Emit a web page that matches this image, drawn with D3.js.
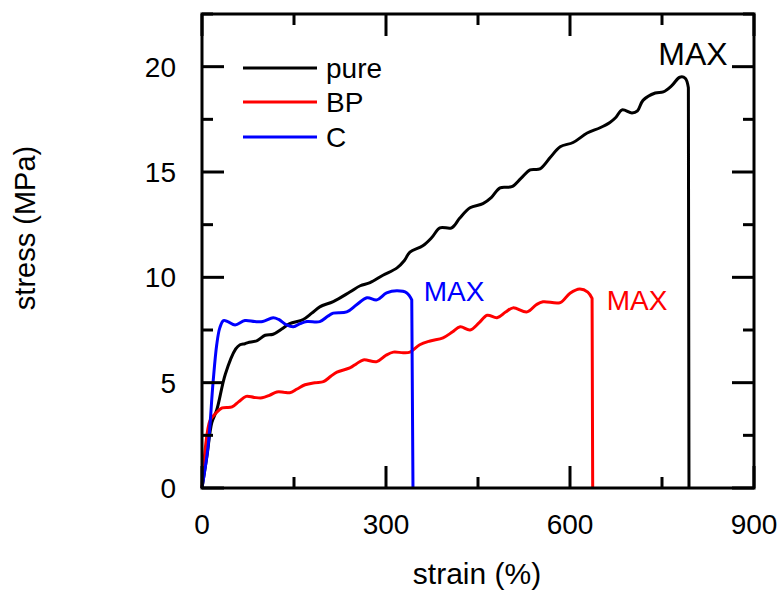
<!DOCTYPE html>
<html>
<head>
<meta charset="utf-8">
<script src="https://cdn.jsdelivr.net/npm/d3@7"></script>
<style>
  html, body { margin: 0; padding: 0; background: #fff; }
  text { font-family: "Liberation Sans", Arial, sans-serif; fill: #000; }
</style>
</head>
<body>
<svg id="chart" width="783" height="592"></svg>
<script>
// ---- data (strain %, stress MPa) ----
const pureStrain = [0, 8, 16, 24, 38, 55, 62, 70, 75, 90, 103, 116, 130, 143, 165, 179, 192, 214, 241, 258, 274, 295, 318, 330, 339, 360, 375, 388, 407, 420, 437, 458, 472, 486, 505, 520, 535, 551, 568, 584, 605, 628, 649, 665, 675, 685, 701, 710, 719, 739, 752, 766, 779, 788, 793, 794];
const pureStress = [0, 1.5, 3.1, 3.7, 5.4, 6.6, 6.8, 6.85, 6.9, 7.0, 7.25, 7.3, 7.55, 7.8, 8.0, 8.3, 8.6, 8.85, 9.3, 9.6, 9.75, 10.1, 10.45, 10.8, 11.2, 11.5, 11.9, 12.35, 12.35, 12.8, 13.3, 13.5, 13.8, 14.25, 14.3, 14.7, 15.1, 15.15, 15.7, 16.2, 16.4, 16.85, 17.1, 17.35, 17.6, 17.95, 17.8, 17.9, 18.4, 18.75, 18.8, 19.1, 19.5, 19.45, 19.0, 0];

const bpStrain = [0, 5, 13, 21, 33, 49, 60, 72, 85, 98, 110, 122, 133, 143, 155, 168, 184, 198, 210, 220, 241, 252, 263, 285, 300, 312, 328, 339, 355, 372, 393, 408, 421, 437, 452, 465, 481, 495, 507, 530, 545, 556, 584, 600, 616, 629, 636, 637];
const bpStress = [0, 1.8, 3.2, 3.5, 3.8, 3.85, 4.1, 4.35, 4.3, 4.28, 4.4, 4.56, 4.55, 4.52, 4.7, 4.9, 5.0, 5.05, 5.3, 5.5, 5.7, 5.9, 6.08, 6.0, 6.3, 6.45, 6.42, 6.45, 6.8, 6.98, 7.13, 7.4, 7.65, 7.5, 7.85, 8.2, 8.08, 8.35, 8.55, 8.36, 8.7, 8.84, 8.8, 9.25, 9.45, 9.3, 9.0, 0];

const cStrain = [0, 10, 18, 24, 29, 35, 42, 54, 70, 86, 99, 116, 125, 138, 149, 160, 171, 192, 205, 214, 236, 252, 269, 285, 301, 318, 334, 342, 344];
const cStress = [0, 2.0, 5.0, 6.8, 7.6, 7.95, 7.9, 7.74, 7.95, 7.9, 7.9, 8.08, 8.0, 7.74, 7.65, 7.8, 7.9, 7.9, 8.15, 8.3, 8.36, 8.7, 9.03, 8.93, 9.26, 9.36, 9.26, 8.93, 0];

const seriesNames = ["pure", "BP", "C"];
const seriesColors = ["#000000", "#ff0000", "#0000ff"];
const xTicks = [0, 300, 600, 900];
const xMinorTicks = [150, 450, 750];
const yTicks = [0, 5, 10, 15, 20];
const yMinorTicks = [2.5, 7.5, 12.5, 17.5, 22.5];
const maxLabel = "MAX";

// ---- layout ----
const svg = d3.select("#chart");
const L = 202, R = 754, T = 14, B = 488;
const x = d3.scaleLinear().domain([0, 900]).range([L, R]);
const y = d3.scaleLinear().domain([0, 22.5]).range([B, T]);

const series = [
  { name: seriesNames[0], color: seriesColors[0], pts: pureStrain.map((s, i) => [s, pureStress[i]]) },
  { name: seriesNames[1], color: seriesColors[1], pts: bpStrain.map((s, i) => [s, bpStress[i]]) },
  { name: seriesNames[2], color: seriesColors[2], pts: cStrain.map((s, i) => [s, cStress[i]]) }
];

const smooth = d3.line()
  .x(d => x(d[0]))
  .y(d => y(d[1]))
  .curve(d3.curveCatmullRom.alpha(0.5));

// curves: smooth rise, then a straight drop at break
series.forEach(s => {
  const body = s.pts.slice(0, -1);
  const last = s.pts[s.pts.length - 1];
  const d = smooth(body) + "L" + x(last[0]) + "," + y(last[1]);
  svg.append("path")
    .attr("d", d)
    .attr("fill", "none")
    .attr("stroke", s.color)
    .attr("stroke-width", 3)
    .attr("stroke-linejoin", "round");
});

// frame
svg.append("rect")
  .attr("x", L).attr("y", T)
  .attr("width", R - L).attr("height", B - T)
  .attr("fill", "none").attr("stroke", "#000").attr("stroke-width", 3);

// ticks (inside, mirrored)
const tk = svg.append("g").attr("stroke", "#000").attr("stroke-width", 3);
const MAJ = 22, MIN = 11;
xTicks.forEach(v => {
  tk.append("line").attr("x1", x(v)).attr("x2", x(v)).attr("y1", B).attr("y2", B - MAJ);
  tk.append("line").attr("x1", x(v)).attr("x2", x(v)).attr("y1", T).attr("y2", T + MAJ);
});
xMinorTicks.forEach(v => {
  tk.append("line").attr("x1", x(v)).attr("x2", x(v)).attr("y1", B).attr("y2", B - MIN);
  tk.append("line").attr("x1", x(v)).attr("x2", x(v)).attr("y1", T).attr("y2", T + MIN);
});
yTicks.forEach(v => {
  tk.append("line").attr("y1", y(v)).attr("y2", y(v)).attr("x1", L).attr("x2", L + MAJ);
  tk.append("line").attr("y1", y(v)).attr("y2", y(v)).attr("x1", R).attr("x2", R - MAJ);
});
yMinorTicks.forEach(v => {
  tk.append("line").attr("y1", y(v)).attr("y2", y(v)).attr("x1", L).attr("x2", L + MIN);
  tk.append("line").attr("y1", y(v)).attr("y2", y(v)).attr("x1", R).attr("x2", R - MIN);
});

// tick labels
xTicks.forEach(v => {
  svg.append("text").attr("x", x(v)).attr("y", 534)
    .attr("text-anchor", "middle").attr("font-size", 28).text(v);
});
yTicks.forEach(v => {
  svg.append("text").attr("x", 176).attr("y", y(v) + 10)
    .attr("text-anchor", "end").attr("font-size", 28).text(v);
});

// axis titles
svg.append("text").attr("x", 477).attr("y", 584)
  .attr("text-anchor", "middle").attr("font-size", 30).text("strain (%)");
svg.append("text").attr("transform", "translate(35,228) rotate(-90)")
  .attr("text-anchor", "middle").attr("font-size", 29).text("stress (MPa)");

// legend
const legY = [68, 102, 137];
series.forEach((s, i) => {
  svg.append("line").attr("x1", 243).attr("x2", 317)
    .attr("y1", legY[i]).attr("y2", legY[i])
    .attr("stroke", s.color).attr("stroke-width", 3);
  svg.append("text").attr("x", 326).attr("y", legY[i] + 10)
    .attr("font-size", 28).text(s.name);
});

// MAX labels
svg.append("text").attr("x", 693).attr("y", 65).attr("text-anchor", "middle")
  .attr("font-size", 32).style("fill", seriesColors[0]).text(maxLabel);
svg.append("text").attr("x", 454).attr("y", 301).attr("text-anchor", "middle")
  .attr("font-size", 28).style("fill", seriesColors[2]).text(maxLabel);
svg.append("text").attr("x", 637).attr("y", 310).attr("text-anchor", "middle")
  .attr("font-size", 28).style("fill", seriesColors[1]).text(maxLabel);
</script>
</body>
</html>
